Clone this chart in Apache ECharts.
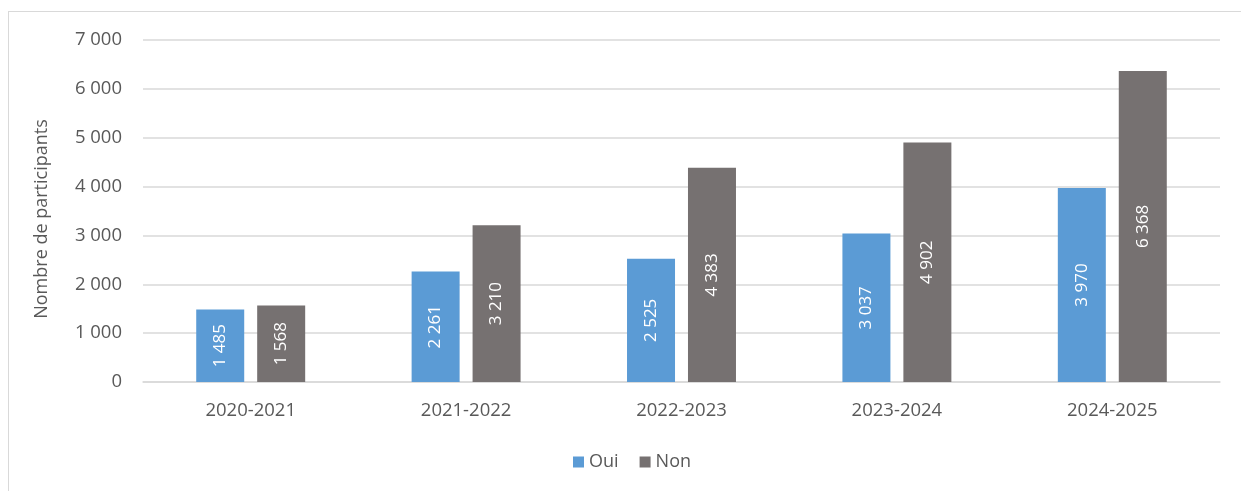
<!DOCTYPE html>
<html><head><meta charset="utf-8">
<script src="https://cdn.jsdelivr.net/npm/echarts@6/dist/echarts.min.js"></script>
<style>
html,body{margin:0;padding:0;background:#fff;overflow:hidden}
#frame{position:absolute;left:8px;top:11px;width:1300px;height:600px;border:1px solid #d9d9d9;box-sizing:border-box}
#c{position:absolute;left:0;top:0;width:1241px;height:491px}
</style></head>
<body>
<div id="frame"></div>
<div id="c"></div>
<script>
const categories = ['2020-2021','2021-2022','2022-2023','2023-2024','2024-2025'];
const oui = [1485, 2261, 2525, 3037, 3970];
const non = [1568, 3210, 4383, 4902, 6368];
const seriesNames = ['Oui','Non'];
const yTicks = [0,1000,2000,3000,4000,5000,6000,7000];

const FONT = '"Open Sans", sans-serif';
const fmt = v => String(v).replace(/\B(?=(\d{3})+(?!\d))/g, ' ');
const chart = echarts.init(document.getElementById('c'), null, {renderer:'canvas'});
const labelCfg = {
  show:true, position:'inside', rotate:90, color:'#fff',
  fontFamily:FONT, fontSize:17, formatter:p=>fmt(p.value)
};
chart.setOption({
  animation:false,
  textStyle:{fontFamily:FONT},
  grid:{left:143, right:21, top:40, bottom:109, containLabel:false},
  legend:{
    bottom:15, left:568, itemWidth:11, itemHeight:11, itemGap:21,
    icon:'rect', textStyle:{color:'#595959', fontSize:18, fontFamily:FONT},
    data:seriesNames
  },
  xAxis:{
    type:'category', data:categories,
    axisLine:{show:true, lineStyle:{color:'#d9d9d9', width:1.5}},
    axisTick:{show:false},
    axisLabel:{color:'#595959', fontSize:18.5, fontFamily:FONT, margin:19}
  },
  yAxis:{
    type:'value', min:yTicks[0], max:yTicks[yTicks.length-1], interval:1000,
    name:'Nombre de participants', nameLocation:'middle', nameGap:92, nameRotate:90,
    nameTextStyle:{color:'#595959', fontSize:18, fontFamily:FONT, padding:[0,16,0,0]},
    axisLine:{show:false}, axisTick:{show:false},
    splitLine:{lineStyle:{color:'#d9d9d9', width:1.5}},
    axisLabel:{color:'#595959', fontSize:18.5, fontFamily:FONT, margin:21, formatter:v=>fmt(v)}
  },
  series:[
    {name:seriesNames[0], type:'bar', data:oui, barWidth:48, barGap:'27%',
     itemStyle:{color:'#5b9bd5'}, label:labelCfg},
    {name:seriesNames[1], type:'bar', data:non, barWidth:48, barGap:'27%',
     itemStyle:{color:'#767171'}, label:labelCfg}
  ]
});
</script>
</body></html>
